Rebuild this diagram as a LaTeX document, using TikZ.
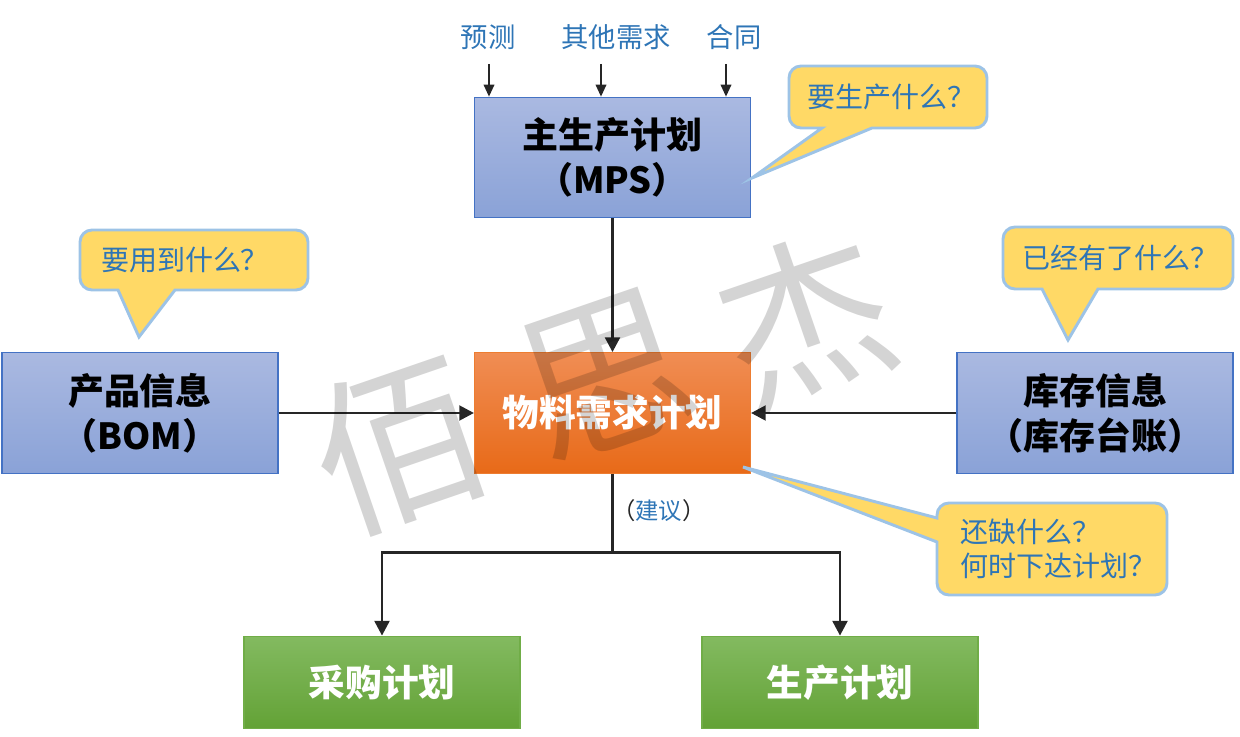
\documentclass[tikz,border=0pt]{standalone}
\usepackage{fontspec}
\newfontfamily\cjk{Noto Sans CJK SC}
\usetikzlibrary{arrows.meta}
\definecolor{bluetop}{HTML}{AAB9E1}
\definecolor{bluebot}{HTML}{8AA2D7}
\definecolor{blueline}{HTML}{4472C4}
\definecolor{orangetop}{HTML}{F08D54}
\definecolor{orangebot}{HTML}{E86A18}
\definecolor{orangeline}{HTML}{ED7D31}
\definecolor{greentop}{HTML}{83BA60}
\definecolor{greenbot}{HTML}{63A236}
\definecolor{greenline}{HTML}{70AD47}
\definecolor{calloutfill}{HTML}{FFD966}
\definecolor{calloutline}{HTML}{9DC3E6}
\definecolor{labelblue}{HTML}{2E75B6}
\definecolor{arrowgray}{HTML}{262626}
\begin{document}
\begin{tikzpicture}[x=0.75pt,y=-0.75pt,
  every node/.style={font=\cjk},
  boxbase/.style={line width=0.8pt, minimum width=207pt, minimum height=90.5pt,
    align=center, inner sep=0pt},
  bluebox/.style={boxbase, draw=blueline, top color=bluetop, bottom color=bluebot,
    font=\cjk\bfseries\fontsize{27}{34}\selectfont, text=black},
  orangebox/.style={boxbase, draw=orangeline, top color=orangetop, bottom color=orangebot,
    font=\cjk\bfseries\fontsize{27.5}{34}\selectfont, text=white},
  greenbox/.style={boxbase, minimum height=69.5pt, draw=greenline, top color=greentop, bottom color=greenbot,
    font=\cjk\bfseries\fontsize{27.5}{34}\selectfont, text=white},
  inlabel/.style={font=\cjk\fontsize{20.5}{24}\selectfont, text=labelblue, inner sep=0pt},
  calltext/.style={font=\cjk\fontsize{21}{25.5}\selectfont, text=labelblue, inner sep=0pt, align=left},
  callshape/.style={fill=calloutfill, draw=calloutline, line width=2.2pt, line join=miter},
  mainarrow/.style={draw=arrowgray, line width=2.2pt, -{Triangle[length=11pt,width=11pt]}},
  mainline/.style={draw=arrowgray, line width=2.2pt},
  smallarrow/.style={draw=arrowgray, line width=1.1pt, -{Triangle[length=9pt,width=8pt]}},
  wmark/.style={font=\cjk\fontsize{128}{128}\selectfont, text=black, opacity=0.17, rotate=19, inner sep=0pt}
]
\useasboundingbox (0,0) rectangle (1240,737);

% boxes
\node[bluebox] (mps) at (612.5,157.5) {主生产计划\\（MPS）};
\node[orangebox] (mrp) at (612.5,413) {物料需求计划};
\node[bluebox] (bom) at (140,413) {产品信息\\（BOM）};
\node[bluebox] (inv) at (1095,413) {库存信息\\（库存台账）};
\node[greenbox] (cg) at (382,682.5) {采购计划};
\node[greenbox] (sc) at (840,682.5) {生产计划};

% inputs to MPS
\node[inlabel] (fc) at (488,37) {预测};
\node[inlabel] (od) at (616,37) {其他需求};
\node[inlabel] (ct) at (734,37) {合同};
\coordinate (i1) at (489,64);
\coordinate (i2) at (601,64);
\coordinate (i3) at (726,64);
\draw[smallarrow] (i1) -- (i1 |- mps.north);
\draw[smallarrow] (i2) -- (i2 |- mps.north);
\draw[smallarrow] (i3) -- (i3 |- mps.north);

% main connectors
\draw[mainarrow] (mps.south) -- (mrp.north);
\draw[mainarrow] (bom.east) -- (mrp.west);
\draw[mainarrow] (inv.west) -- (mrp.east);
\draw[mainline] (mrp.south) -- ++(0,79) coordinate (split);
\draw[mainarrow] (split) -| (cg.north);
\draw[mainarrow] (split) -| (sc.north);
\node[anchor=west, inner sep=0pt, font=\cjk\fontsize{17.5}{24}\selectfont] (sug) at (612,511)
  {\textcolor{arrowgray}{（}\textcolor{labelblue}{建议}\textcolor{arrowgray}{）}};

% callouts
\coordinate (t1) at (752,178);
\draw[callshape] [rounded corners=9pt] (822,128) -- (789,128) -- (789,66) -- (987,66) -- (987,128) [sharp corners] -- (872,128) -- (t1) -- cycle;
\node[calltext] (c1) at (891,97) {要生产什么？};

\coordinate (t2) at (139,337);
\draw[callshape] [rounded corners=9pt] (118,290) -- (80,290) -- (80,230) -- (308,230) -- (308,290) [sharp corners] -- (175,290) -- (t2) -- cycle;
\node[calltext] (c2) at (185,260) {要用到什么？};

\coordinate (t3) at (1068,340);
\draw[callshape] [rounded corners=9pt] (1042,289) -- (1003,289) -- (1003,227) -- (1233,227) -- (1233,289) [sharp corners] -- (1098,289) -- (t3) -- cycle;
\node[calltext] (c3) at (1120,258) {已经有了什么？};

\coordinate (t4) at (743,467);
\draw[callshape] [rounded corners=9pt] (937,518) -- (937,503) -- (1167,503) -- (1167,595) -- (937,595) [sharp corners] -- (937,542) -- (t4) -- cycle;
\node[calltext, anchor=west] (c4) at (960,549) {还缺什么？\\何时下达计划？};

% watermark
\node[wmark] (w1) at (398,445) {佰};
\node[wmark] (w2) at (606,375) {思};
\node[wmark] (w3) at (805,318) {杰};
\end{tikzpicture}
\end{document}
